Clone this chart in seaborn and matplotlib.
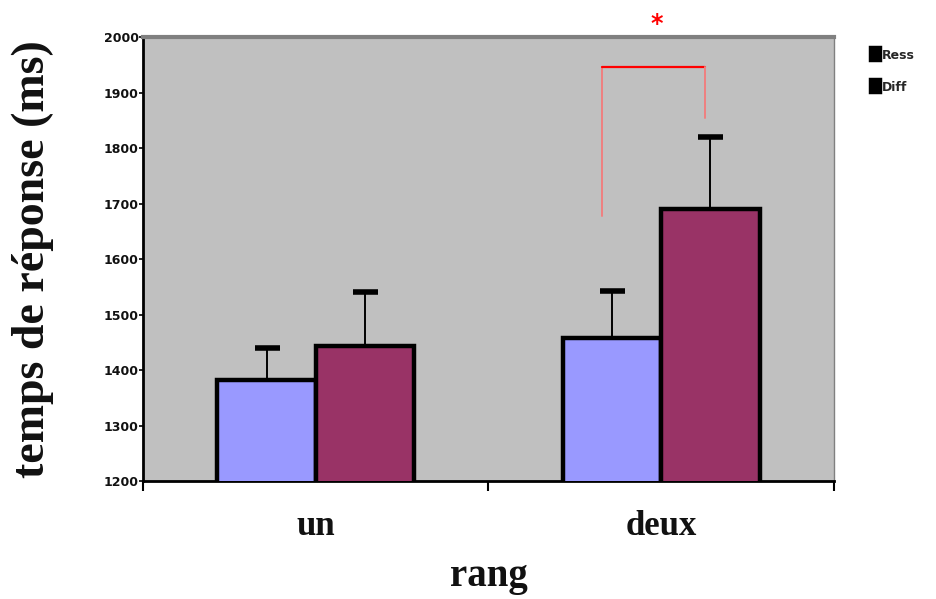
import matplotlib
matplotlib.use("Agg")
import matplotlib.pyplot as plt
import seaborn as sns
import pandas as pd
import numpy as np

# Mean response times and upper error (ms) per rank and condition
categories = ["un", "deux"]
conditions = ["Ress", "Diff"]
ress_means = [1382, 1458]
diff_means = [1443, 1690]
ress_err = [58, 84]
diff_err = [97, 130]
y_ticks = [1200, 1300, 1400, 1500, 1600, 1700, 1800, 1900, 2000]

df = pd.DataFrame({
    "rang": categories * 2,
    "cond": ["Ress"] * 2 + ["Diff"] * 2,
    "rt": ress_means + diff_means,
})
errs = {"Ress": ress_err, "Diff": diff_err}

sns.set_theme(style="white")
plt.rcParams["font.family"] = ["DejaVu Sans"]

fig = plt.figure(figsize=(9.36, 5.99), dpi=100)
ax = fig.add_axes([0.1528, 0.197, 0.7382, 0.741])
ax.set_facecolor("#c0c0c0")

palette = {"Ress": "#9999ff", "Diff": "#993366"}
sns.barplot(data=df, x="rang", y="rt", hue="cond", hue_order=conditions,
            order=categories, palette=palette, width=0.57, gap=0,
            errorbar=None, edgecolor="black", linewidth=3.2,
            saturation=1, ax=ax, zorder=3)

# Upper error bars only, centred on each bar
for container, cond in zip(ax.containers, conditions):
    xs = [p.get_x() + p.get_width() / 2 for p in container.patches]
    ys = [p.get_height() + p.get_y() for p in container.patches]
    eb = ax.errorbar(xs, ys, yerr=[np.zeros(len(xs)), errs[cond]], fmt="none",
                     ecolor="black", elinewidth=1.4, capsize=9, capthick=4,
                     zorder=2)
    caps = eb.lines[1]
    if len(caps) == 2:
        caps[0].set_visible(False)

ax.set_ylim(1200, 2000)
ax.set_xlim(-0.5, 1.5)
ax.set_yticks(y_ticks)
ax.set_yticklabels([str(t) for t in y_ticks], fontsize=9, fontweight="bold",
                   color="#111111")
ax.tick_params(axis="y", direction="out", length=3, width=1.2, pad=0,
               left=True, color="black")

ax.set_xticks([0, 1])
ax.set_xticklabels(categories, fontsize=25, fontweight="bold",
                   family="Liberation Serif", color="#111111")
ax.tick_params(axis="x", length=0, pad=21)
ax.set_xticks([-0.5, 0.5, 1.5], minor=True)
ax.tick_params(axis="x", which="minor", direction="out", length=7, width=1.5,
               bottom=True, color="black")

ax.set_xlabel("rang", fontsize=28, fontweight="bold", family="Liberation Serif",
              labelpad=11, color="#111111")
ax.set_ylabel("temps de réponse (ms)", fontsize=33, fontweight="bold",
              family="Liberation Serif", labelpad=36, color="#111111")

for side in ["left", "bottom"]:
    ax.spines[side].set_color("black")
    ax.spines[side].set_linewidth(2)
ax.spines["top"].set_color("#808080")
ax.spines["top"].set_linewidth(3)
ax.spines["right"].set_color("#808080")
ax.spines["right"].set_linewidth(1)

# Significance bracket between the two "deux" bars
ax.plot([0.828, 0.828], [1677, 1946], color="#f08080", lw=1.4, zorder=4)
ax.plot([0.828, 1.127], [1946, 1946], color="#ff0000", lw=1.6, zorder=4)
ax.plot([1.127, 1.127], [1946, 1854], color="#f08080", lw=1.4, zorder=4)
ax.text(0.988, 2002, "*", color="red", fontsize=17, fontweight="bold",
        ha="center", va="bottom", clip_on=False)

# Legend with black keys
leg = ax.legend(loc="upper left", bbox_to_anchor=(1.038, 1.0), frameon=False,
                handlelength=0.7, handleheight=1.1, handletextpad=0.15,
                labelspacing=1.5, prop={"size": 9, "weight": "bold"})
for h in leg.legend_handles:
    h.set_facecolor("black")
    h.set_edgecolor("black")

fig.savefig("out.png", dpi=100, facecolor="white")
